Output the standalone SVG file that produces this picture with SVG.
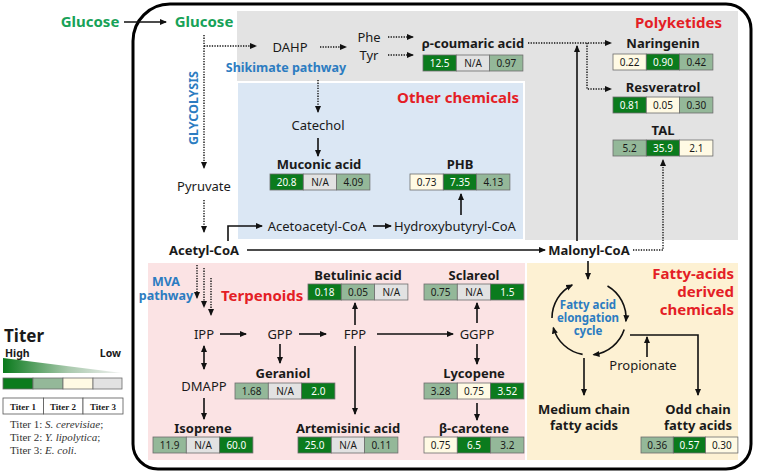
<svg xmlns="http://www.w3.org/2000/svg" width="758" height="475" viewBox="0 0 758 475">
<defs>
<marker id="ah" markerWidth="8" markerHeight="8" refX="6" refY="4" orient="auto" markerUnits="userSpaceOnUse">
<path d="M0,1 L7,4 L0,7 Z" fill="#111"/>
</marker>
<marker id="ahs" markerWidth="8" markerHeight="8" refX="1" refY="4" orient="auto" markerUnits="userSpaceOnUse">
<path d="M7,1 L0,4 L7,7 Z" fill="#111"/>
</marker>
<linearGradient id="tg" x1="0" y1="0" x2="1" y2="0">
<stop offset="0" stop-color="#0a7a1c"/>
<stop offset="0.55" stop-color="#a9c9ad"/>
<stop offset="1" stop-color="#f2f2f2"/>
</linearGradient>
<style>
text{font-family:"Noto Sans","Open Sans","DejaVu Sans",sans-serif;fill:#1a1a1a;}
.n{font-size:13px;text-anchor:middle;}
.b{font-size:13px;font-weight:bold;text-anchor:middle;}
.red{font-size:15px;font-weight:bold;fill:#e41e26;}
.blue{font-size:12.5px;font-weight:bold;fill:#2c7cc1;}
.cyc{font-size:11.5px;font-weight:bold;fill:#2c7cc1;text-anchor:middle;}
.grn{font-size:15px;font-weight:bold;fill:#17a258;text-anchor:middle;}
.v{font-size:10px;text-anchor:middle;}
.vw{font-size:10px;text-anchor:middle;fill:#fff;}
.c1{fill:#0b7b1d;stroke:#6d6d6d;stroke-width:0.8;}
.c2{fill:#94b899;stroke:#6d6d6d;stroke-width:0.8;}
.c3{fill:#fffae4;stroke:#6d6d6d;stroke-width:0.8;}
.c4{fill:#e2e2e2;stroke:#6d6d6d;stroke-width:0.8;}
.s{fill:none;stroke:#111;stroke-width:1.6;}
.d{fill:none;stroke:#111;stroke-width:1.4;stroke-dasharray:1.3 1.3;}
.ser{font-family:"Liberation Serif","Times New Roman",serif;}
</style>
</defs>

<!-- regions -->
<g id="regions">
<path d="M170,4 H726 A25,25 0 0 1 751,29 V444 A25,25 0 0 1 726,469 H158 A25,25 0 0 1 133,444 V41 A37,37 0 0 1 170,4 Z" fill="#fff" stroke="#000" stroke-width="3"/>
<rect x="237" y="11" width="501" height="229" fill="#e3e3e3"/>
<rect x="237" y="82" width="287" height="158" fill="#dbe7f4" stroke="#fff" stroke-width="2"/>
<rect x="148" y="263" width="377" height="197" fill="#fbe3e4"/>
<rect x="527" y="263" width="211" height="197" fill="#fdf1d3"/>
</g>

<!-- connectors -->
<g id="connectors">
<line class="s" x1="124" y1="22" x2="166" y2="22" marker-end="url(#ah)"/>
<line class="d" x1="204" y1="35" x2="204" y2="168" marker-end="url(#ah)"/>
<polyline class="d" points="204,46 256,46" marker-end="url(#ah)"/>
<line class="d" x1="320" y1="47" x2="346" y2="47" marker-end="url(#ah)"/>
<line class="d" x1="388" y1="37" x2="413" y2="37" marker-end="url(#ah)"/>
<line class="d" x1="388" y1="55" x2="413" y2="55" marker-end="url(#ah)"/>
<line class="d" x1="318" y1="80" x2="318" y2="112" marker-end="url(#ah)"/>
<line class="s" x1="318" y1="138" x2="318" y2="156" marker-end="url(#ah)"/>
<line class="d" x1="204" y1="200" x2="204" y2="232" marker-end="url(#ah)"/>
<polyline class="s" points="228,241 228,226 262,226" marker-end="url(#ah)"/>
<line class="s" x1="373" y1="226" x2="391" y2="226" marker-end="url(#ah)"/>
<line class="s" x1="461" y1="215" x2="461" y2="194" marker-end="url(#ah)"/>
<line class="s" x1="247" y1="250" x2="545" y2="250" marker-end="url(#ah)"/>
<line class="s" x1="577" y1="241" x2="577" y2="46" marker-end="url(#ah)"/>
<line class="d" x1="528" y1="43" x2="611" y2="43" marker-end="url(#ah)"/>
<polyline class="d" points="587,43 587,89 611,89" marker-end="url(#ah)"/>
<polyline class="d" points="633,250 663,250 663,160" marker-end="url(#ah)"/>
<line class="d" x1="197" y1="265" x2="197" y2="298" marker-end="url(#ah)"/>
<line class="d" x1="204" y1="268" x2="204" y2="307" marker-end="url(#ah)"/>
<line class="d" x1="211" y1="278" x2="211" y2="315" marker-end="url(#ah)"/>
<line class="s" x1="220" y1="334" x2="246" y2="334" marker-end="url(#ah)"/>
<line class="s" x1="299" y1="334" x2="326" y2="334" marker-end="url(#ah)"/>
<line class="s" x1="377" y1="334" x2="453" y2="334" marker-end="url(#ah)"/>
<line class="s" x1="355" y1="325" x2="355" y2="303" marker-end="url(#ah)"/>
<line class="s" x1="355" y1="346" x2="355" y2="414" marker-end="url(#ah)"/>
<line class="s" x1="280" y1="344" x2="280" y2="363" marker-end="url(#ah)"/>
<line class="s" x1="204" y1="346" x2="204" y2="369" marker-start="url(#ahs)" marker-end="url(#ah)"/>
<line class="s" x1="204" y1="398" x2="204" y2="419" marker-end="url(#ah)"/>
<line class="s" x1="477" y1="323" x2="477" y2="303" marker-end="url(#ah)"/>
<line class="s" x1="477" y1="344" x2="477" y2="364" marker-end="url(#ah)"/>
<line class="s" x1="477" y1="403" x2="477" y2="420" marker-end="url(#ah)"/>
<line class="s" x1="588" y1="261" x2="588" y2="279" marker-end="url(#ah)"/>
<path class="s" d="M552,318 A37,37 0 0 1 572.2,285" marker-end="url(#ah)"/>
<path class="s" d="M607.5,286 A37,37 0 0 1 625.9,321.2" marker-end="url(#ah)"/>
<path class="s" d="M624.2,329.4 A37,37 0 0 1 593.5,354.7" marker-end="url(#ah)"/>
<path class="s" d="M582.6,354.4 A37,37 0 0 1 553.3,327.6" marker-end="url(#ah)"/>
<line class="s" x1="584" y1="358" x2="584" y2="395" marker-end="url(#ah)"/>
<polyline class="s" points="630,335 698,335 698,395" marker-end="url(#ah)"/>
<line class="s" x1="647" y1="357" x2="647" y2="337" marker-end="url(#ah)"/>
</g>

<!-- section labels -->
<g id="labels">
<text class="red" x="722" y="28" text-anchor="end">Polyketides</text>
<text class="red" x="519" y="103" text-anchor="end">Other chemicals</text>
<text class="red" x="221" y="301">Terpenoids</text>
<text class="red" x="734" y="279" text-anchor="end">Fatty-acids</text>
<text class="red" x="734" y="297" text-anchor="end">derived</text>
<text class="red" x="734" y="315" text-anchor="end">chemicals</text>
<text class="blue" x="286" y="72" text-anchor="middle">Shikimate pathway</text>
<text class="blue" x="198" y="108" text-anchor="middle" transform="rotate(-90 198 108)">GLYCOLYSIS</text>
<text class="blue" x="166" y="286" text-anchor="middle">MVA</text>
<text class="blue" x="166" y="300" text-anchor="middle">pathway</text>
</g>

<g id="n-glucose-out"><text class="grn" x="90" y="27">Glucose</text></g>
<g id="n-glucose"><text class="grn" x="204" y="27">Glucose</text></g>
<g id="n-dahp"><text class="n" x="290" y="52">DAHP</text></g>
<g id="n-phe"><text class="n" x="369" y="42">Phe</text></g>
<g id="n-tyr"><text class="n" x="369" y="60">Tyr</text></g>
<g id="n-catechol"><text class="n" x="318" y="130">Catechol</text></g>
<g id="n-pyruvate"><text class="n" x="204" y="191">Pyruvate</text></g>
<g id="n-acetoacetyl"><text class="n" x="317" y="231">Acetoacetyl-CoA</text></g>
<g id="n-hydroxybutyryl"><text class="n" x="455" y="231">Hydroxybutyryl-CoA</text></g>
<g id="n-acetyl"><text class="b" x="204" y="255">Acetyl-CoA</text></g>
<g id="n-malonyl"><text class="b" x="589" y="255">Malonyl-CoA</text></g>
<g id="n-ipp"><text class="n" x="204" y="339">IPP</text></g>
<g id="n-gpp"><text class="n" x="280" y="339">GPP</text></g>
<g id="n-fpp"><text class="n" x="355" y="339">FPP</text></g>
<g id="n-ggpp"><text class="n" x="477" y="339">GGPP</text></g>
<g id="n-dmapp"><text class="n" x="204" y="391">DMAPP</text></g>
<g id="n-propionate"><text class="n" x="643" y="370">Propionate</text></g>
<g id="n-cycle">
<text class="cyc" x="588" y="309">Fatty acid</text>
<text class="cyc" x="588" y="322">elongation</text>
<text class="cyc" x="588" y="335">cycle</text>
</g>
<g id="n-medium"><text class="b" x="584" y="414">Medium chain</text><text class="b" x="584" y="430">fatty acids</text></g>

<g id="n-coumaric">
<text class="b" x="473" y="48">ρ-coumaric acid</text>
<rect class="c1" x="423" y="55" width="33.3" height="16"/><rect class="c4" x="456.3" y="55" width="33.3" height="16"/><rect class="c2" x="489.6" y="55" width="33.3" height="16"/>
<text class="vw" x="439.6" y="66.5">12.5</text><text class="v" x="473" y="66.5">N/A</text><text class="v" x="506.3" y="66.5">0.97</text>
</g>
<g id="n-naringenin">
<text class="b" x="663" y="48">Naringenin</text>
<rect class="c3" x="613" y="54" width="33.3" height="16"/><rect class="c1" x="646.3" y="54" width="33.3" height="16"/><rect class="c2" x="679.6" y="54" width="33.3" height="16"/>
<text class="v" x="629.6" y="65.5">0.22</text><text class="vw" x="663" y="65.5">0.90</text><text class="v" x="696.3" y="65.5">0.42</text>
</g>
<g id="n-resveratrol">
<text class="b" x="663" y="92">Resveratrol</text>
<rect class="c1" x="613" y="97" width="33.3" height="16"/><rect class="c3" x="646.3" y="97" width="33.3" height="16"/><rect class="c2" x="679.6" y="97" width="33.3" height="16"/>
<text class="vw" x="629.6" y="108.5">0.81</text><text class="v" x="663" y="108.5">0.05</text><text class="v" x="696.3" y="108.5">0.30</text>
</g>
<g id="n-tal">
<text class="b" x="663" y="135">TAL</text>
<rect class="c2" x="613" y="140" width="33.3" height="16"/><rect class="c1" x="646.3" y="140" width="33.3" height="16"/><rect class="c3" x="679.6" y="140" width="33.3" height="16"/>
<text class="v" x="629.6" y="151.5">5.2</text><text class="vw" x="663" y="151.5">35.9</text><text class="v" x="696.3" y="151.5">2.1</text>
</g>
<g id="n-muconic">
<text class="b" x="319" y="169">Muconic acid</text>
<rect class="c1" x="270" y="174" width="33.3" height="16"/><rect class="c4" x="303.3" y="174" width="33.3" height="16"/><rect class="c2" x="336.6" y="174" width="33.3" height="16"/>
<text class="vw" x="286.6" y="185.5">20.8</text><text class="v" x="320" y="185.5">N/A</text><text class="v" x="353.3" y="185.5">4.09</text>
</g>
<g id="n-phb">
<text class="b" x="460" y="169">PHB</text>
<rect class="c3" x="410" y="174" width="33.3" height="16"/><rect class="c1" x="443.3" y="174" width="33.3" height="16"/><rect class="c2" x="476.6" y="174" width="33.3" height="16"/>
<text class="v" x="426.6" y="185.5">0.73</text><text class="vw" x="460" y="185.5">7.35</text><text class="v" x="493.3" y="185.5">4.13</text>
</g>
<g id="n-betulinic">
<text class="b" x="358" y="280">Betulinic acid</text>
<rect class="c1" x="308" y="284" width="33.3" height="16"/><rect class="c2" x="341.3" y="284" width="33.3" height="16"/><rect class="c4" x="374.6" y="284" width="33.3" height="16"/>
<text class="vw" x="324.6" y="295.5">0.18</text><text class="v" x="358" y="295.5">0.05</text><text class="v" x="391.3" y="295.5">N/A</text>
</g>
<g id="n-sclareol">
<text class="b" x="474" y="280">Sclareol</text>
<rect class="c2" x="424" y="284" width="33.3" height="16"/><rect class="c4" x="457.3" y="284" width="33.3" height="16"/><rect class="c1" x="490.6" y="284" width="33.3" height="16"/>
<text class="v" x="440.6" y="295.5">0.75</text><text class="v" x="474" y="295.5">N/A</text><text class="vw" x="507.3" y="295.5">1.5</text>
</g>
<g id="n-geraniol">
<text class="b" x="283" y="378">Geraniol</text>
<rect class="c2" x="235" y="383" width="33.3" height="16"/><rect class="c4" x="268.3" y="383" width="33.3" height="16"/><rect class="c1" x="301.6" y="383" width="33.3" height="16"/>
<text class="v" x="251.6" y="394.5">1.68</text><text class="v" x="285" y="394.5">N/A</text><text class="vw" x="318.3" y="394.5">2.0</text>
</g>
<g id="n-lycopene">
<text class="b" x="474" y="378">Lycopene</text>
<rect class="c2" x="424" y="383" width="33.3" height="16"/><rect class="c3" x="457.3" y="383" width="33.3" height="16"/><rect class="c1" x="490.6" y="383" width="33.3" height="16"/>
<text class="v" x="440.6" y="394.5">3.28</text><text class="v" x="474" y="394.5">0.75</text><text class="vw" x="507.3" y="394.5">3.52</text>
</g>
<g id="n-isoprene">
<text class="b" x="203" y="433">Isoprene</text>
<rect class="c2" x="153" y="437" width="33.3" height="16"/><rect class="c4" x="186.3" y="437" width="33.3" height="16"/><rect class="c1" x="219.6" y="437" width="33.3" height="16"/>
<text class="v" x="169.6" y="448.5">11.9</text><text class="v" x="203" y="448.5">N/A</text><text class="vw" x="236.3" y="448.5">60.0</text>
</g>
<g id="n-artemisinic">
<text class="b" x="348" y="433">Artemisinic acid</text>
<rect class="c1" x="298" y="437" width="33.3" height="16"/><rect class="c4" x="331.3" y="437" width="33.3" height="16"/><rect class="c2" x="364.6" y="437" width="33.3" height="16"/>
<text class="vw" x="314.6" y="448.5">25.0</text><text class="v" x="348" y="448.5">N/A</text><text class="v" x="381.3" y="448.5">0.11</text>
</g>
<g id="n-carotene">
<text class="b" x="474" y="433">β-carotene</text>
<rect class="c3" x="424" y="437" width="33.3" height="16"/><rect class="c1" x="457.3" y="437" width="33.3" height="16"/><rect class="c2" x="490.6" y="437" width="33.3" height="16"/>
<text class="v" x="440.6" y="448.5">0.75</text><text class="vw" x="474" y="448.5">6.5</text><text class="v" x="507.3" y="448.5">3.2</text>
</g>
<g id="n-oddchain">
<text class="b" x="698" y="414">Odd chain</text><text class="b" x="698" y="430">fatty acids</text>
<rect class="c2" x="641" y="437" width="32.3" height="16"/><rect class="c1" x="673.3" y="437" width="32.3" height="16"/><rect class="c3" x="705.6" y="437" width="32.3" height="16"/>
<text class="v" x="657.2" y="448.5">0.36</text><text class="vw" x="689.5" y="448.5">0.57</text><text class="v" x="721.8" y="448.5">0.30</text>
</g>

<!-- legend -->
<g id="legend">
<text x="4" y="342" style="font-size:17px;font-weight:bold">Titer</text>
<text x="5" y="357" style="font-size:10.5px;font-weight:bold">High</text>
<text x="121" y="357" style="font-size:10.5px;font-weight:bold;text-anchor:end">Low</text>
<polygon points="3,358 3,373 122,373" fill="url(#tg)"/>
<rect x="3" y="378" width="30" height="11" class="c1"/>
<rect x="33" y="378" width="30" height="11" class="c2"/>
<rect x="63" y="378" width="30" height="11" class="c3"/>
<rect x="93" y="378" width="29" height="11" class="c4"/>
<rect x="3" y="398" width="40.5" height="16" fill="#fff" stroke="#555" stroke-width="0.8"/>
<rect x="43.5" y="398" width="39.5" height="16" fill="#fff" stroke="#555" stroke-width="0.8"/>
<rect x="83" y="398" width="40" height="16" fill="#fff" stroke="#555" stroke-width="0.8"/>
<text class="ser" x="23" y="409.5" style="font-size:9px;font-weight:bold;text-anchor:middle">Titer 1</text>
<text class="ser" x="63" y="409.5" style="font-size:9px;font-weight:bold;text-anchor:middle">Titer 2</text>
<text class="ser" x="103" y="409.5" style="font-size:9px;font-weight:bold;text-anchor:middle">Titer 3</text>
<text class="ser" x="10" y="428" style="font-size:11px;fill:#333">Titer 1: <tspan font-style="italic">S. cerevisiae</tspan>;</text>
<text class="ser" x="10" y="441" style="font-size:11px;fill:#333">Titer 2: <tspan font-style="italic">Y. lipolytica</tspan>;</text>
<text class="ser" x="10" y="454" style="font-size:11px;fill:#333">Titer 3: <tspan font-style="italic">E. coli</tspan>.</text>
</g>
</svg>
